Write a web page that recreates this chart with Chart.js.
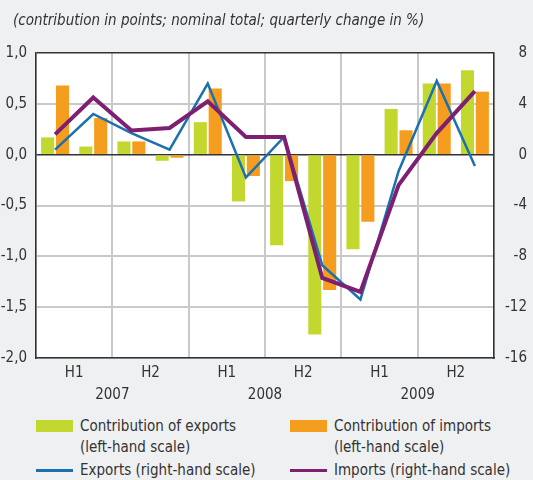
<!DOCTYPE html>
<html>
<head>
<meta charset="utf-8">
<script src="https://cdn.jsdelivr.net/npm/chart.js@4.4.1/dist/chart.umd.min.js"></script>
<style>
  html, body { margin: 0; padding: 0; background: #eff0f2; }
  #wrap { position: relative; width: 533px; height: 480px; overflow: hidden;
          font-family: "Liberation Sans Narrow", "DejaVu Sans Condensed", sans-serif; color: #333; }
  #title { position: absolute; left: 13px; top: 11px; font-size: 15px; font-style: italic; line-height: 18px; }
  #chart-box { position: absolute; left: 0; top: 0; width: 533px; height: 412px; }
  .item { position: absolute; font-size: 15px; line-height: 21px; padding-left: 44px; white-space: nowrap; }
  .swatch { position: absolute; left: 0; width: 37px; }
</style>
</head>
<body>
<div id="wrap">
  <div id="chart-box"><canvas id="chart"></canvas></div>
  <div id="title">(contribution in points; nominal total; quarterly change in %)</div>
  <div id="legend"></div>
</div>
<script>
// quarters 2007 Q1 .. 2009 Q4
const quarters = ["2007 Q1", "2007 Q2", "2007 Q3", "2007 Q4",
                  "2008 Q1", "2008 Q2", "2008 Q3", "2008 Q4",
                  "2009 Q1", "2009 Q2", "2009 Q3", "2009 Q4"];
const halfLabels = ["H1", "H2", "H1", "H2", "H1", "H2"];
const yearLabels = ["2007", "2008", "2009"];

// left-hand scale (points)
const exportContrib = [0.17, 0.08, 0.13, -0.06, 0.32, -0.46, -0.89, -1.77, -0.93, 0.45, 0.70, 0.83];
const importContrib = [0.68, 0.36, 0.13, -0.03, 0.65, -0.21, -0.26, -1.33, -0.66, 0.24, 0.70, 0.62];
// right-hand scale (%)
const exportsChange = [0.4, 3.2, 1.7, 0.4, 5.6, -1.8, 1.4, -8.7, -11.4, -1.3, 5.8, -0.9];
const importsChange = [1.6, 4.5, 1.9, 2.1, 4.2, 1.4, 1.4, -9.7, -10.8, -2.4, 1.7, 5.0];

const leftTicks = { min: -2, max: 1, step: 0.5 };
const rightTicks = { min: -16, max: 8, step: 4 };

const FONT = '"Liberation Sans Narrow", "DejaVu Sans Condensed", sans-serif';
const GREEN = "#c3d82f";
const ORANGE = "#f59d1e";
const BLUE = "#1a70b0";
const PURPLE = "#7e1f72";
const GRID = "#c9c9c9";
const DARK = "#333333";

Chart.defaults.font.family = FONT;
Chart.defaults.font.size = 15;
Chart.defaults.color = DARK;

// white plot area
const plotBackground = {
  id: "plotBackground",
  beforeDraw(chart) {
    const { ctx, chartArea } = chart;
    ctx.save();
    ctx.fillStyle = "#ffffff";
    ctx.fillRect(chartArea.left, chartArea.top, chartArea.width, chartArea.height);
    ctx.restore();
  }
};

const datasets = [
  { type: "bar", label: "Contribution of exports|(left-hand scale)", data: exportContrib,
    backgroundColor: GREEN, yAxisID: "y", order: 3, categoryPercentage: 0.78, barPercentage: 0.88 },
  { type: "bar", label: "Contribution of imports|(left-hand scale)", data: importContrib,
    backgroundColor: ORANGE, yAxisID: "y", order: 3, categoryPercentage: 0.78, barPercentage: 0.88 },
  { type: "line", label: "Exports (right-hand scale)", data: exportsChange,
    borderColor: BLUE, borderWidth: 2.5, yAxisID: "y1", order: 1 },
  { type: "line", label: "Imports (right-hand scale)", data: importsChange,
    borderColor: PURPLE, borderWidth: 4, yAxisID: "y1", order: 0 }
];

const chart = new Chart(document.getElementById("chart"), {
  type: "bar",
  data: { labels: quarters, datasets: datasets },
  options: {
    responsive: true,
    maintainAspectRatio: false,
    animation: false,
    layout: { padding: { top: 53, right: 6, bottom: 6, left: 0 } },
    elements: {
      line: { tension: 0, fill: false, borderJoinStyle: "miter" },
      point: { radius: 0, hoverRadius: 0 }
    },
    plugins: { legend: { display: false }, title: { display: false }, tooltip: { enabled: false } },
    scales: {
      x: { display: false, offset: true },
      xHalf: {
        type: "category", labels: halfLabels, position: "bottom", offset: true, weight: 1, z: -1,
        afterFit: (s) => { s.height = 22; },
        grid: { offset: true, color: GRID, lineWidth: 2, drawTicks: false },
        border: { color: DARK, width: 1.5 },
        ticks: { padding: 6 }
      },
      xYear: {
        type: "category", labels: yearLabels, position: "bottom", offset: true, weight: 2,
        afterFit: (s) => { s.height = 26; },
        grid: { display: false, drawTicks: false },
        border: { display: false },
        ticks: { padding: 6 }
      },
      y: {
        position: "left", min: leftTicks.min, max: leftTicks.max,
        afterFit: (s) => { s.width = 36; },
        grid: {
          drawTicks: false,
          color: (c) => (c.tick && (c.tick.value === 0 || c.tick.value === leftTicks.max)) ? DARK : GRID,
          lineWidth: (c) => (c.tick && (c.tick.value === 0 || c.tick.value === leftTicks.max)) ? 1.5 : 2
        },
        border: { color: DARK, width: 1.5 },
        ticks: {
          stepSize: leftTicks.step, padding: 9,
          callback: (v) => v.toFixed(1).replace(".", ",")
        }
      },
      y1: {
        position: "right", min: rightTicks.min, max: rightTicks.max,
        afterFit: (s) => { s.width = 33; },
        grid: { display: false, drawTicks: false },
        border: { color: DARK, width: 1.5 },
        ticks: { stepSize: rightTicks.step, padding: 8, crossAlign: "far" }
      }
    }
  },
  plugins: [plotBackground]
});

// legend in two columns, built from the datasets
const legendPos = [
  { left: 36, top: 416 }, { left: 290, top: 416 },
  { left: 36, top: 460 }, { left: 290, top: 460 }
];
const legend = document.getElementById("legend");
chart.data.datasets.forEach((ds, i) => {
  const item = document.createElement("div");
  item.className = "item";
  item.style.left = legendPos[i].left + "px";
  item.style.top = legendPos[i].top + "px";
  const sw = document.createElement("span");
  sw.className = "swatch";
  if (ds.type === "bar") {
    sw.style.top = "4px"; sw.style.height = "12px"; sw.style.background = ds.backgroundColor;
  } else {
    sw.style.top = "9px"; sw.style.height = "3px"; sw.style.background = ds.borderColor;
  }
  item.appendChild(sw);
  item.insertAdjacentHTML("beforeend", ds.label.split("|").join("<br>"));
  legend.appendChild(item);
});
</script>
</body>
</html>
